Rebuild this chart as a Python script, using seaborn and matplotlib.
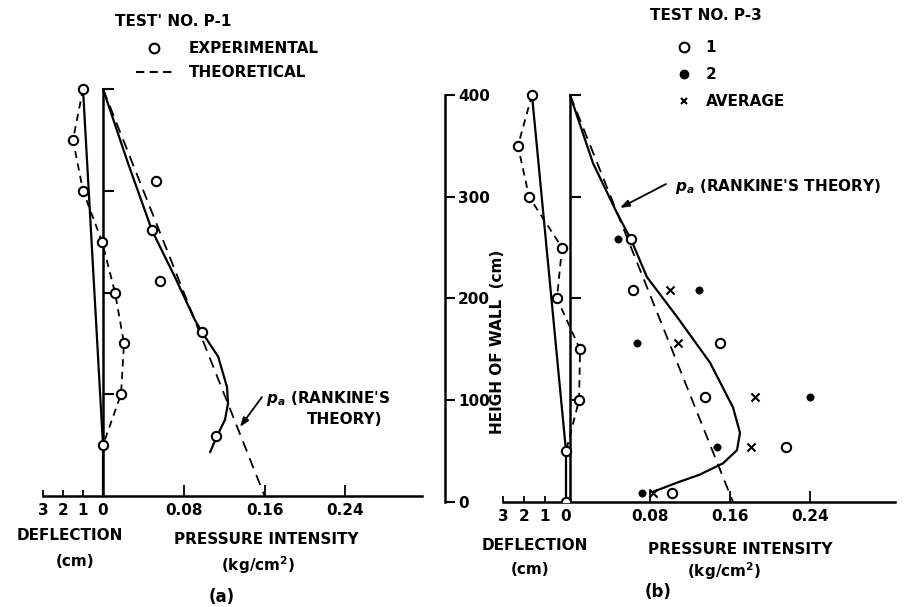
import matplotlib
matplotlib.use("Agg")
import matplotlib.pyplot as plt
from matplotlib.lines import Line2D
import seaborn as sns

# Test P-1 (panel a): deflection of wall (cm) against height (cm)
a_defl_h = [400, 350, 300, 250, 200, 150, 100, 50]
a_defl = [1.0, 1.5, 1.0, 0.05, -0.6, -1.05, -0.9, 0.0]
a_wall_h = [400, 50, 0]
a_wall_defl = [1.0, 0.0, 0.0]

# Test P-1: pressure intensity (kg/cm2)
a_exp_h = [310, 261, 211, 161, 59]
a_exp_p = [0.0525, 0.0485, 0.056, 0.098, 0.112]
a_fit_h = [400, 327, 261, 215, 173, 161, 137, 107, 91, 75, 59, 43]
a_fit_p = [0.0, 0.0248, 0.0485, 0.0713, 0.091, 0.098, 0.114, 0.1228, 0.1238, 0.1208, 0.1129, 0.106]
a_theory_h = [400, 0]
a_theory_p = [0.0, 0.16]

# Test P-3 (panel b): deflection
b_defl_h = [400, 350, 300, 250, 200, 150, 100, 50, 0]
b_defl = [1.62, 2.29, 1.76, 0.19, 0.43, -0.67, -0.62, 0.0, 0.0]
b_wall_h = [400, 50, 0]
b_wall_defl = [1.62, 0.0, 0.0]

# Test P-3: pressure, run 1, run 2 and average
b_p_h = [258, 208, 156, 103, 54, 9]
b_test1 = [0.061, 0.063, 0.150, 0.135, 0.216, 0.102]
b_test2 = [0.048, 0.129, 0.067, 0.240, 0.147, 0.072]
b_avg_h = [208, 156, 103, 54, 9]
b_avg = [0.100, 0.108, 0.185, 0.181, 0.083]
b_fit_h = [400, 333, 284, 258, 221, 182, 137, 93, 68, 51, 38, 27, 19, 10]
b_fit_p = [0.0, 0.023, 0.047, 0.061, 0.077, 0.107, 0.140, 0.163, 0.170, 0.167, 0.153, 0.130, 0.107, 0.083]
b_theory_h = [400, 0]
b_theory_p = [0.0, 0.163]

# wall line with its small marks
wall_h = [0, 400]
wall_p = [0, 0]
wall_tick_h = [100, 200, 300, 400]

p_ticks = [0.08, 0.16, 0.24]
p_labels = ["0.08", "0.16", "0.24"]
d_ticks = [3, 2, 1, 0]
d_labels = ["3", "2", "1", "0"]
h_ticks = [0, 100, 200, 300, 400]

sns.set_theme(style="white")
plt.rcParams["font.family"] = ["DejaVu Sans"]
plt.rcParams["font.weight"] = "bold"
plt.rcParams["font.size"] = 11
plt.rcParams["text.color"] = "black"
plt.rcParams["axes.labelcolor"] = "black"
plt.rcParams["xtick.color"] = "black"
plt.rcParams["ytick.color"] = "black"

W, H = 913, 607
fig = plt.figure(figsize=(W / 100, H / 100), dpi=100)


def fx(px):
    return px / W


def fy(py):
    return 1 - py / H


def panel(left, right, base, top, p0, p_scale, d0, d_scale, h_scale):
    ax = fig.add_axes([fx(left), fy(base), fx(right - left), (base - top) / H])
    ax.set_xlim((left - p0) / p_scale, (right - p0) / p_scale)
    ax.set_ylim(0, (base - top) / h_scale)
    axd = ax.twiny()
    axd.set_xlim((d0 - left) / d_scale, (d0 - right) / d_scale)
    for a in (ax, axd):
        for s in a.spines.values():
            s.set_visible(False)
        a.set_yticks([])
    ax.spines["bottom"].set_visible(True)
    ax.spines["bottom"].set_linewidth(1.8)
    ax.spines["bottom"].set_color("black")
    ax.set_xticks(p_ticks, p_labels)
    ax.tick_params(axis="x", direction="in", length=8, width=1.3, pad=5,
                   colors="black", labelsize=11, bottom=True)
    axd.xaxis.set_ticks_position("bottom")
    axd.set_xticks(d_ticks, d_labels)
    axd.tick_params(axis="x", direction="in", length=4, width=1.3, pad=5,
                    colors="black", labelsize=11, bottom=True, top=False)
    return ax, axd


def draw_wall(ax, axd, wall_defl_h, wall_defl, defl_h, defl):
    sns.lineplot(x=wall_p, y=wall_h, sort=False, estimator=None,
                 color="black", linewidth=1.8, ax=ax)
    sns.scatterplot(x=[0] * len(wall_tick_h), y=wall_tick_h, marker=1, s=60,
                    color="black", linewidth=1.5, ax=ax)
    sns.lineplot(x=wall_defl, y=wall_defl_h, sort=False, estimator=None,
                 color="black", linewidth=1.6, ax=axd)
    sns.lineplot(x=defl, y=defl_h, sort=False, estimator=None, color="black",
                 linewidth=1.3, linestyle=(0, (4, 3)), ax=axd)
    sns.scatterplot(x=defl, y=defl_h, marker="o", s=45, facecolor="white",
                    edgecolor="black", linewidth=1.5, zorder=4, ax=axd)
    for a in (ax, axd):
        a.set_xlabel("")
        a.set_ylabel("")


# ---------- panel (a) ----------
ax_a, axd_a = panel(30, 445, 496, 80, 103, 1010, 103, 20, 1.0175)
ax_a.spines["bottom"].set_bounds((43 - 103) / 1010, (422 - 103) / 1010)
draw_wall(ax_a, axd_a, a_wall_h, a_wall_defl, a_defl_h, a_defl)
sns.lineplot(x=a_theory_p, y=a_theory_h, sort=False, estimator=None,
             color="black", linewidth=1.3, linestyle=(0, (6, 4)), ax=ax_a)
sns.lineplot(x=a_fit_p, y=a_fit_h, sort=False, estimator=None,
             color="black", linewidth=1.6, ax=ax_a)
sns.scatterplot(x=a_exp_p, y=a_exp_h, marker="o", s=45, facecolor="white",
                edgecolor="black", linewidth=1.5, zorder=4, ax=ax_a)
ax_a.annotate("", xy=(0.1356, 67.8), xytext=(0.1574, 97.3),
              arrowprops=dict(arrowstyle="-|>,head_length=0.5,head_width=0.18",
                              color="black", lw=1.3, shrinkA=0, shrinkB=0))

# ---------- panel (b) ----------
ax_b, axd_b = panel(445, 913, 502, 80, 570, 1000, 566, 21, 1.0175)
ax_b.spines["bottom"].set_bounds((503 - 570) / 1000, (895 - 570) / 1000)
ax_b.spines["left"].set_visible(True)
ax_b.spines["left"].set_linewidth(1.8)
ax_b.spines["left"].set_color("black")
ax_b.spines["left"].set_bounds(0, 400)
draw_wall(ax_b, axd_b, b_wall_h, b_wall_defl, b_defl_h, b_defl)
sns.lineplot(x=b_theory_p, y=b_theory_h, sort=False, estimator=None,
             color="black", linewidth=1.3, linestyle=(0, (6, 4)), ax=ax_b)
sns.lineplot(x=b_fit_p, y=b_fit_h, sort=False, estimator=None,
             color="black", linewidth=1.6, ax=ax_b)
sns.scatterplot(x=b_test1, y=b_p_h, marker="o", s=45, facecolor="white",
                edgecolor="black", linewidth=1.5, zorder=4, ax=ax_b)
sns.scatterplot(x=b_test2, y=b_p_h, marker="o", s=28, color="black",
                edgecolor="black", zorder=4, ax=ax_b)
sns.scatterplot(x=b_avg, y=b_avg_h, marker="x", s=34, color="black",
                linewidth=1.5, zorder=4, ax=ax_b)
ax_b.annotate("", xy=(0.050, 289), xytext=(0.096, 312.5),
              arrowprops=dict(arrowstyle="-|>,head_length=0.5,head_width=0.18",
                              color="black", lw=1.3, shrinkA=0, shrinkB=0))

# height scale sits on the left edge of panel (b)
ax_b.set_yticks(h_ticks, [str(v) for v in h_ticks])
ax_b.tick_params(axis="y", direction="in", length=7, width=1.5, pad=-9.5,
                 colors="black", labelsize=11, left=True)
for lbl in ax_b.get_yticklabels():
    lbl.set_horizontalalignment("left")
ax_b.set_xlabel("")
ax_b.set_ylabel("")

# ---------- legends ----------
fig.text(fx(115), fy(22), "TEST' NO. P-1", ha="left", va="center")
h_a = [Line2D([0], [0], marker="o", ls="none", mfc="white", mec="black", mew=1.5, ms=7),
       Line2D([0], [0], color="black", lw=1.5, ls=(0, (4, 2.5)))]
ax_a.legend(h_a, ["EXPERIMENTAL", "THEORETICAL"], loc="upper left",
            bbox_to_anchor=(fx(136), fy(41)), bbox_transform=fig.transFigure,
            frameon=False, handlelength=2.35, handletextpad=1.1,
            labelspacing=0.6, borderpad=0, borderaxespad=0)

fig.text(fx(650), fy(15), "TEST NO. P-3", ha="left", va="center")
h_b = [Line2D([0], [0], marker="o", ls="none", mfc="white", mec="black", mew=1.5, ms=7),
       Line2D([0], [0], marker="o", ls="none", mfc="black", mec="black", ms=6),
       Line2D([0], [0], marker="x", ls="none", color="black", mew=1.5, ms=5)]
ax_b.legend(h_b, ["1", "2", "AVERAGE"], loc="upper left",
            bbox_to_anchor=(fx(678), fy(40)), bbox_transform=fig.transFigure,
            frameon=False, handlelength=0.8, handletextpad=1.0,
            labelspacing=0.8, borderpad=0, borderaxespad=0)

# ---------- texts ----------
fig.text(fx(266), fy(398), r"$p_a$ (RANKINE'S", ha="left", va="center")
fig.text(fx(307), fy(420), "THEORY)", ha="left", va="center")
fig.text(fx(675), fy(186), r"$p_a$ (RANKINE'S THEORY)", ha="left", va="center")

fig.text(fx(70), fy(536), "DEFLECTION", ha="center", va="center")
fig.text(fx(75), fy(561), "(cm)", ha="center", va="center")
fig.text(fx(266), fy(540), "PRESSURE INTENSITY", ha="center", va="center")
fig.text(fx(258), fy(565), r"(kg/cm$^2$)", ha="center", va="center")
fig.text(fx(222), fy(597), "(a)", ha="center", va="center", fontsize=12)

fig.text(fx(535), fy(545), "DEFLECTION", ha="center", va="center")
fig.text(fx(530), fy(569), "(cm)", ha="center", va="center")
fig.text(fx(740), fy(549), "PRESSURE INTENSITY", ha="center", va="center")
fig.text(fx(724), fy(571), r"(kg/cm$^2$)", ha="center", va="center")
fig.text(fx(658), fy(592), "(b)", ha="center", va="center", fontsize=12)

fig.text(fx(498), fy(342), "HEIGH OF WALL  (cm)", rotation=90,
         ha="center", va="center")

fig.savefig("out.png", dpi=100)
